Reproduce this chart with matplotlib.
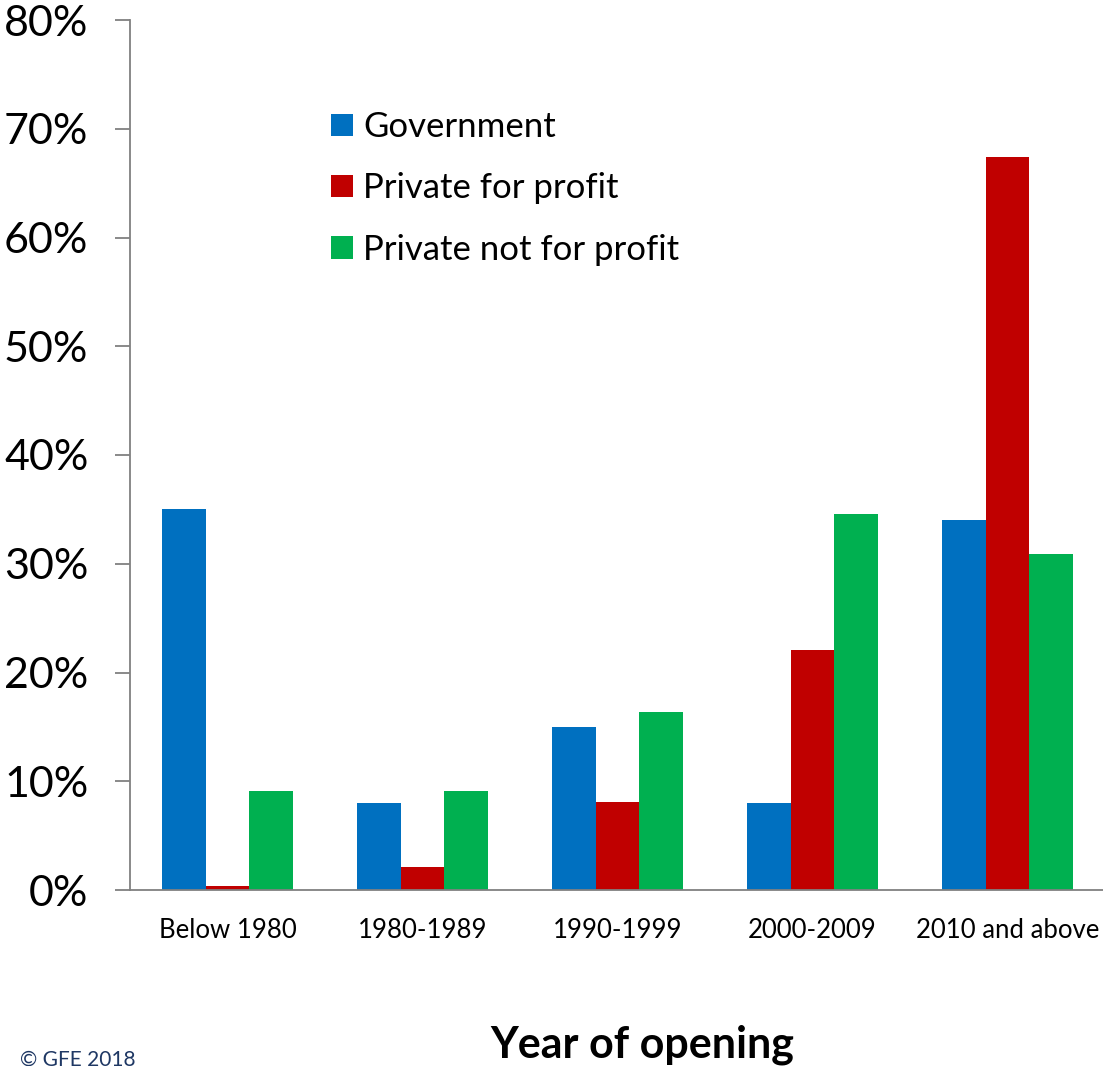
import matplotlib
matplotlib.use("Agg")
import matplotlib.pyplot as plt
import numpy as np

categories = ["Below 1980", "1980-1989", "1990-1999", "2000-2009", "2010 and above"]
series_names = ["Government", "Private for profit", "Private not for profit"]
government = [35.0, 8.0, 15.0, 8.0, 34.0]
private_profit = [0.4, 2.1, 8.1, 22.1, 67.4]
private_nonprofit = [9.1, 9.1, 16.4, 34.6, 30.9]
colors = ["#0070C0", "#C00000", "#00B050"]
yticks = [0, 10, 20, 30, 40, 50, 60, 70, 80]
ytick_labels = ["0%", "10%", "20%", "30%", "40%", "50%", "60%", "70%", "80%"]

plt.rcParams['font.family'] = ['Lato', 'DejaVu Sans']

W, H = 1103, 1066
fig = plt.figure(figsize=(W / 100, H / 100), dpi=100)
ax = fig.add_axes([130 / W, (H - 890) / H, 975 / W, 870 / H])

x = np.arange(len(categories))
bw = 0.223
handles = []
for i, (vals, c, name) in enumerate(zip([government, private_profit, private_nonprofit], colors, series_names)):
    h = ax.bar(x + (i - 1) * bw, vals, width=bw, color=c, label=name, linewidth=0)
    handles.append(h)

ax.set_xlim(-0.5, len(categories) - 0.5)
ax.set_ylim(0, 80)
ax.set_yticks(yticks)
ax.set_yticklabels(ytick_labels, fontsize=31)
ax.set_xticks(x)
ax.set_xticklabels(categories, fontsize=18.5)
ax.tick_params(axis='y', direction='out', length=11, width=1.3, color='#808080', pad=19)
ax.tick_params(axis='x', length=0, pad=20)
for s in ['top', 'right']:
    ax.spines[s].set_visible(False)
for s in ['left', 'bottom']:
    ax.spines[s].set_color('#808080')
    ax.spines[s].set_linewidth(1.3)

leg = fig.legend(handles=handles, labels=series_names, loc='upper left',
                 bbox_to_anchor=(300 / W, 1 - 80 / H), frameon=False, fontsize=25,
                 handlelength=0.62, handleheight=0.62, handletextpad=0.3, labelspacing=0.84)

fig.text(642 / W, 1 - 1045 / H, "Year of opening", fontsize=31, fontweight='bold',
         ha='center', va='center')
fig.text(20 / W, 1 - 1060 / H, "© GFE 2018", fontsize=15, color='#1F3864',
         ha='left', va='center')

fig.savefig("out.png", dpi=100)
